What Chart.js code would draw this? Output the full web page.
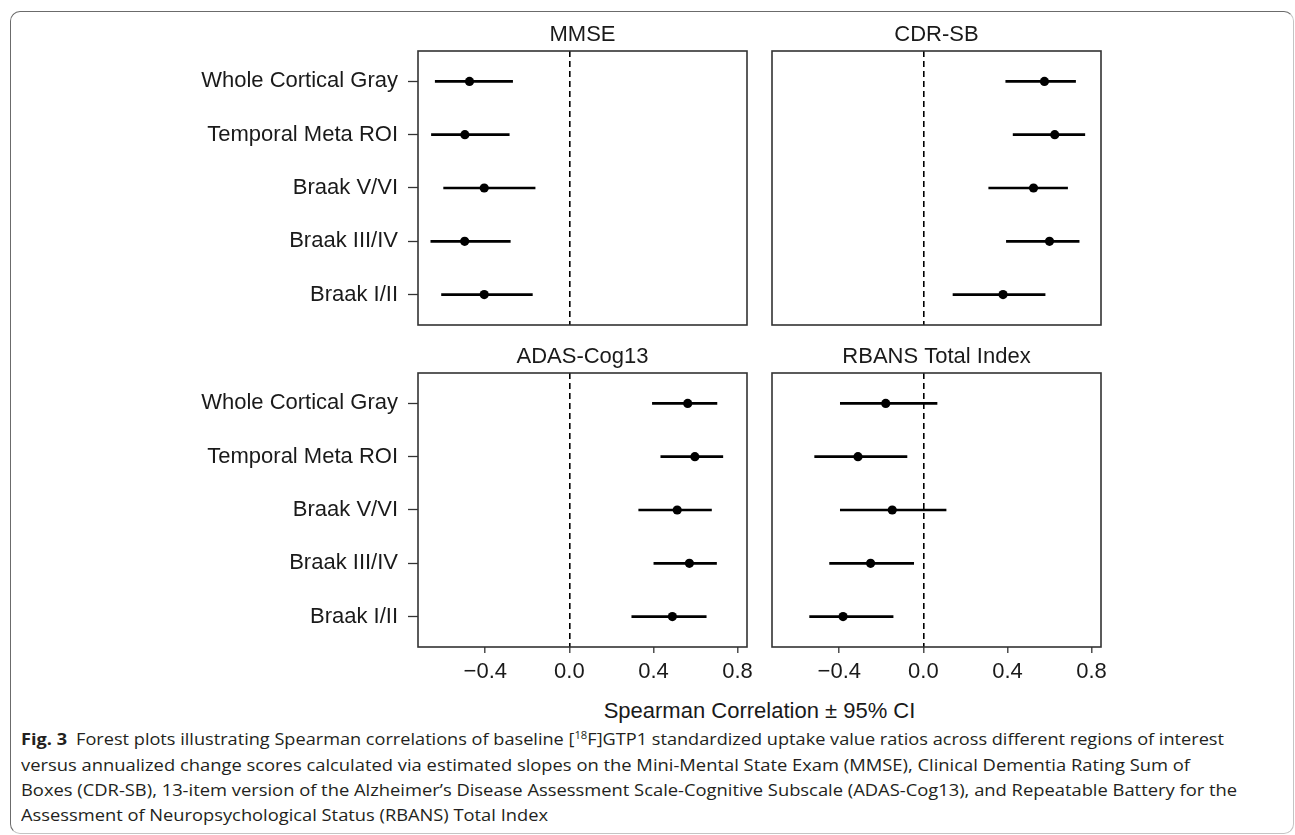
<!DOCTYPE html>
<html>
<head>
<meta charset="utf-8">
<script src="https://cdn.jsdelivr.net/npm/chart.js@4.4.1/dist/chart.umd.min.js"></script>
<style>
html, body { margin:0; padding:0; background:#fff; width:1295px; height:835px; overflow:hidden; }
#frame { position:absolute; left:10px; top:11px; width:1284px; height:823px; box-sizing:border-box;
  border:1.5px solid #6b6b6b; border-right-color:#c4c4c4; border-bottom-color:#c4c4c4; border-radius:10px; }
canvas { position:absolute; }
#xtitle { position:absolute; left:409.5px; width:700px; top:698px; text-align:center;
  font-family:'Liberation Sans', Arial, sans-serif; font-size:22px; line-height:26px; color:#1a1a1a; white-space:nowrap; }
.cl { position:absolute; left:21px; white-space:nowrap; font-family:'Open Sans', 'Noto Sans', sans-serif;
  font-size:16.5px; line-height:25px; color:#231f20; transform-origin:0 50%; }
.cl b { font-weight:700; }
.cl sup { font-size:0.62em; line-height:0; vertical-align:0.6em; }
</style>
</head>
<body>
<div id="frame"></div>
<canvas id="cTL"></canvas>
<canvas id="cTR"></canvas>
<canvas id="cBL"></canvas>
<canvas id="cBR"></canvas>
<div id="xtitle">Spearman Correlation ± 95% CI</div>
<div class="cl" data-w="1203" style="top:726px"><b>Fig. 3</b>&ensp;Forest plots illustrating Spearman correlations of baseline [<sup>18</sup>F]GTP1 standardized uptake value ratios across different regions of interest</div>
<div class="cl" data-w="1169" style="top:752px">versus annualized change scores calculated via estimated slopes on the Mini-Mental State Exam (MMSE), Clinical Dementia Rating Sum of</div>
<div class="cl" data-w="1216" style="top:777px">Boxes (CDR-SB), 13-item version of the Alzheimer’s Disease Assessment Scale-Cognitive Subscale (ADAS-Cog13), and Repeatable Battery for the</div>
<div class="cl" data-w="527" style="top:802px">Assessment of Neuropsychological Status (RBANS) Total Index</div>
<script>
// ---------------- data ----------------
const categories = ['Whole Cortical Gray', 'Temporal Meta ROI', 'Braak V/VI', 'Braak III/IV', 'Braak I/II'];
const xTickValues = [-0.4, 0, 0.4, 0.8];
const xTickLabels = ['\u22120.4', '0.0', '0.4', '0.8'];
const panelTitles = ['MMSE', 'CDR-SB', 'ADAS-Cog13', 'RBANS Total Index'];

const mmseRho = [-0.475, -0.497, -0.405, -0.498, -0.405];
const mmseLo  = [-0.638, -0.656, -0.598, -0.659, -0.608];
const mmseHi  = [-0.270, -0.286, -0.163, -0.281, -0.176];

const cdrRho = [0.576, 0.625, 0.524, 0.600, 0.379];
const cdrLo  = [0.392, 0.427, 0.311, 0.395, 0.141];
const cdrHi  = [0.724, 0.768, 0.686, 0.741, 0.579];

const adasRho = [0.563, 0.597, 0.513, 0.571, 0.490];
const adasLo  = [0.395, 0.435, 0.330, 0.402, 0.297];
const adasHi  = [0.702, 0.730, 0.676, 0.700, 0.651];

const rbansRho = [-0.179, -0.311, -0.148, -0.251, -0.382];
const rbansLo  = [-0.395, -0.517, -0.395, -0.446, -0.541];
const rbansHi  = [ 0.065, -0.078,  0.108, -0.046, -0.144];

// ---------------- layout ----------------
const FONT = "'Liberation Sans', Arial, sans-serif";
Chart.defaults.font.family = FONT;
const X_MIN = -0.72, X_MAX = 0.845;
const TOP_SPACE = 40, RIGHT_PAD = 16, LEFT_PAD = 6, BOTTOM_PAD = 6, YAXIS_W = 418, XAXIS_H = 46;
const AREA_W = 329, AREA_H = 274;

const framePlugin = {
  id: 'panelFrame',
  afterDraw(chart) {
    const { ctx, chartArea: a } = chart;
    ctx.save();
    ctx.strokeStyle = '#333';
    ctx.lineWidth = 1.6;
    ctx.strokeRect(a.left, a.top, a.right - a.left, a.bottom - a.top);
    ctx.restore();
  }
};

function makePanel(id, title, rho, lo, hi, isLeft, isBottom, areaLeft, areaTop) {
  const canvas = document.getElementById(id);
  const leftSpace = isLeft ? YAXIS_W : LEFT_PAD;
  const bottomSpace = isBottom ? XAXIS_H : BOTTOM_PAD;
  const w = leftSpace + AREA_W + RIGHT_PAD;
  const h = TOP_SPACE + AREA_H + bottomSpace;
  canvas.width = w; canvas.height = h;
  canvas.style.width = w + 'px'; canvas.style.height = h + 'px';
  canvas.style.left = (areaLeft - leftSpace) + 'px';
  canvas.style.top = (areaTop - TOP_SPACE) + 'px';

  return new Chart(canvas.getContext('2d'), {
    type: 'bar',
    data: {
      datasets: [
        {
          type: 'bar',
          data: categories.map((c, i) => ({ x: [lo[i], hi[i]], y: i })),
          backgroundColor: '#000', borderWidth: 0, barThickness: 2, order: 2
        },
        {
          type: 'scatter',
          data: categories.map((c, i) => ({ x: rho[i], y: i })),
          backgroundColor: '#000', borderColor: '#000', borderWidth: 0,
          pointRadius: 4.6, pointHoverRadius: 4.6, order: 1
        }
      ]
    },
    options: {
      indexAxis: 'y',
      responsive: false,
      animation: false,
      events: [],
      layout: { padding: { left: isLeft ? 0 : LEFT_PAD, right: RIGHT_PAD, top: 0, bottom: isBottom ? 0 : BOTTOM_PAD } },
      plugins: { legend: { display: false }, tooltip: { enabled: false }, title: { display: false } },
      scales: {
        x: {
          type: 'linear', position: 'bottom', min: X_MIN, max: X_MAX, offset: false,
          afterBuildTicks: s => { s.ticks = xTickValues.map(v => ({ value: v })); },
          ticks: {
            display: isBottom, autoSkip: false, maxRotation: 0, padding: 6,
            callback: (v) => xTickLabels[xTickValues.indexOf(v)],
            font: { size: 22 }, color: '#1a1a1a'
          },
          grid: {
            offset: false,
            color: c => (c.tick && c.tick.value === 0) ? '#000' : 'rgba(0,0,0,0)',
            lineWidth: 1.6, drawTicks: isBottom, tickLength: 6, tickColor: '#333', tickWidth: 1.3
          },
          border: { display: false, dash: [6, 4] },
          afterFit: s => { s.height = isBottom ? XAXIS_H : 0; s.paddingLeft = 0; s.paddingRight = 0; }
        },
        xTop: {
          type: 'linear', position: 'top', min: X_MIN, max: X_MAX,
          ticks: { display: false }, grid: { display: false, drawTicks: false }, border: { display: false },
          title: { display: true, text: title, font: { size: 22 }, color: '#1a1a1a', padding: { top: 11, bottom: 0 } },
          afterFit: s => { s.height = TOP_SPACE; s.paddingLeft = 0; s.paddingRight = 0; }
        },
        y: {
          type: 'linear', position: 'left', reverse: true, min: -0.57, max: 4.57, offset: false,
          display: isLeft,
          afterBuildTicks: s => { s.ticks = categories.map((c, i) => ({ value: i })); },
          ticks: {
            autoSkip: false, padding: 10,
            callback: (v) => categories[v],
            font: { size: 22 }, color: '#1a1a1a'
          },
          grid: { offset: false, drawOnChartArea: false, drawTicks: true, tickLength: 10, tickColor: '#333', tickWidth: 1.3, color: 'rgba(0,0,0,0)' },
          border: { display: false },
          afterFit: s => { if (isLeft) s.width = YAXIS_W; s.paddingTop = 0; s.paddingBottom = 0; }
        }
      }
    },
    plugins: [framePlugin]
  });
}

makePanel('cTL', panelTitles[0], mmseRho, mmseLo, mmseHi, true, false, 418, 51);
makePanel('cTR', panelTitles[1], cdrRho, cdrLo, cdrHi, false, false, 772, 51);
makePanel('cBL', panelTitles[2], adasRho, adasLo, adasHi, true, true, 418, 373);
makePanel('cBR', panelTitles[3], rbansRho, rbansLo, rbansHi, false, true, 772, 373);

// fit caption lines to the reference line lengths
document.querySelectorAll('.cl').forEach(el => {
  const target = parseFloat(el.dataset.w);
  const natural = el.getBoundingClientRect().width;
  if (natural > 0) el.style.transform = 'scaleX(' + (target / natural).toFixed(4) + ')';
});
</script>
</body>
</html>
